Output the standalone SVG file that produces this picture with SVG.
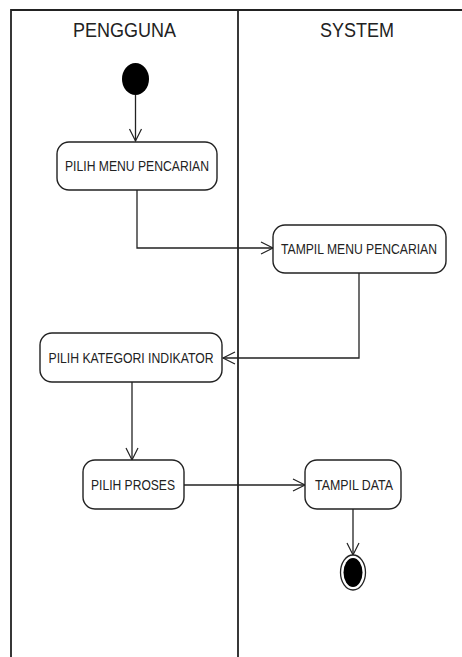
<svg xmlns="http://www.w3.org/2000/svg" width="462" height="657" viewBox="0 0 462 657">
<style>
.lane{stroke:#222;stroke-width:1.8;fill:none}
.box{fill:#fff;stroke:#222;stroke-width:1.4}
.lbl{font-family:"Liberation Sans",Arial,sans-serif;font-size:14px;fill:#222;text-anchor:middle}
.hdr{font-family:"Liberation Sans",Arial,sans-serif;font-size:20px;fill:#222;text-anchor:middle}
.edge{stroke:#222;stroke-width:1.3;fill:none;marker-end:url(#arr)}
</style>
<defs>
<marker id="arr" markerWidth="16" markerHeight="16" refX="13" refY="7" orient="auto" markerUnits="userSpaceOnUse">
<path d="M1,1 L13,7 L1,13" fill="none" stroke="#222" stroke-width="1.2"/>
</marker>
</defs>
<rect width="462" height="657" fill="#fff"/>
<g id="lanes">
<path class="lane" d="M11,657 V10 H462"/>
<path class="lane" d="M238,10 V657"/>
<text class="hdr" x="124.5" y="37" textLength="103" lengthAdjust="spacingAndGlyphs">PENGGUNA</text>
<text class="hdr" x="357" y="37" textLength="74" lengthAdjust="spacingAndGlyphs">SYSTEM</text>
</g>
<g id="connectors">
<path class="edge" d="M135.5,95 V141"/>
<path class="edge" d="M137,190 V248 H273"/>
<path class="edge" d="M359,273 V358 H223"/>
<path class="edge" d="M132,382 V460"/>
<path class="edge" d="M184,485 H305"/>
<path class="edge" d="M353,509 V555"/>
</g>
<g id="start">
<ellipse cx="135.5" cy="79" rx="13.5" ry="16" fill="#000"/>
</g>
<g id="n1">
<rect class="box" x="57" y="142" width="160" height="48" rx="12"/>
<text class="lbl" x="137" y="171" textLength="144" lengthAdjust="spacingAndGlyphs">PILIH MENU PENCARIAN</text>
</g>
<g id="n2">
<rect class="box" x="273" y="225" width="173" height="48" rx="12"/>
<text class="lbl" x="359" y="254" textLength="156" lengthAdjust="spacingAndGlyphs">TAMPIL MENU PENCARIAN</text>
</g>
<g id="n3">
<rect class="box" x="40" y="333" width="182" height="49" rx="12"/>
<text class="lbl" x="131" y="363" textLength="165" lengthAdjust="spacingAndGlyphs">PILIH KATEGORI INDIKATOR</text>
</g>
<g id="n4">
<rect class="box" x="83" y="460" width="101" height="49" rx="12"/>
<text class="lbl" x="133" y="490" textLength="84" lengthAdjust="spacingAndGlyphs">PILIH PROSES</text>
</g>
<g id="n5">
<rect class="box" x="305" y="460" width="96" height="49" rx="12"/>
<text class="lbl" x="354" y="490" textLength="78" lengthAdjust="spacingAndGlyphs">TAMPIL DATA</text>
</g>
<g id="end">
<ellipse cx="353" cy="572.5" rx="12.5" ry="17.5" fill="#fff" stroke="#222" stroke-width="1.3"/>
<ellipse cx="353" cy="572.5" rx="9.5" ry="14.5" fill="#000"/>
</g>
</svg>
